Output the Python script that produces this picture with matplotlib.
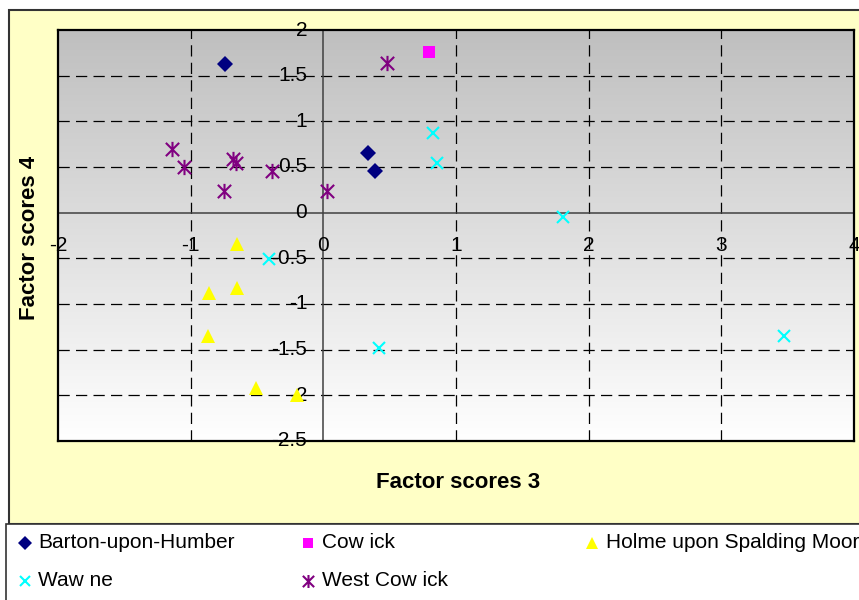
import numpy as np
import matplotlib
matplotlib.use("Agg")
import matplotlib.pyplot as plt
from matplotlib.path import Path
from matplotlib.colors import LinearSegmentedColormap
from matplotlib.patches import Rectangle
from matplotlib.lines import Line2D
from matplotlib.transforms import offset_copy

plt.rcParams['font.family'] = ['Liberation Sans', 'DejaVu Sans']

# Factor scores per site (factor 3 on x, factor 4 on y)
barton_x = [-0.74, 0.34, 0.39]
barton_y = [1.63, 0.65, 0.46]
cowick_x = [0.80]
cowick_y = [1.76]
holme_x = [-0.65, -0.86, -0.65, -0.87, -0.51, -0.20]
holme_y = [-0.34, -0.88, -0.82, -1.35, -1.92, -2.00]
wawne_x = [-0.41, 0.42, 0.83, 0.86, 1.81, 3.47]
wawne_y = [-0.51, -1.48, 0.87, 0.54, -0.05, -1.35]
westcowick_x = [-1.14, -1.05, -0.68, -0.66, -0.75, -0.39, 0.03, 0.48]
westcowick_y = [0.70, 0.50, 0.59, 0.54, 0.24, 0.46, 0.24, 1.64]

series_names = ["Barton-upon-Humber", "Cow ick", "Holme upon Spalding Moor",
                "Waw ne", "West Cow ick"]

x_ticks = [-2, -1, 0, 1, 2, 3, 4]
x_tick_labels = ["-2", "-1", "0", "1", "2", "3", "4"]
y_ticks = [-2.5, -2, -1.5, -1, -0.5, 0, 0.5, 1, 1.5, 2]
y_tick_labels = ["-2.5", "-2", "-1.5", "-1", "-0.5", "0", "0.5", "1", "1.5", "2"]

# asterisk marker: an X crossed by a vertical stroke
star_path = Path(
    [(-1, -1), (1, 1), (-1, 1), (1, -1), (0, -1.15), (0, 1.15)],
    [Path.MOVETO, Path.LINETO, Path.MOVETO, Path.LINETO, Path.MOVETO, Path.LINETO],
)

styles = [
    dict(marker='D', color='#000080', ms=8.5, mew=0),
    dict(marker='s', color='#FF00FF', ms=9, mew=0),
    dict(marker='^', color='#FFFF00', ms=10, mew=0),
    dict(marker='x', color='#00FFFF', ms=9, mew=1.5),
    dict(marker=star_path, color='#800080', ms=11, mew=1.5),
]

W, H = 859, 600
fig = plt.figure(figsize=(W / 100, H / 100), dpi=100)
fig.patch.set_facecolor('white')


def fx(px):
    return px / W


def fy(py):
    return 1 - py / H


# chart area and legend panel (drawn beneath the axes)
fig.patches.append(Rectangle((fx(9), fy(524)), (880 - 9) / W, (524 - 10) / H,
                             transform=fig.transFigure, facecolor='#FFFFC6',
                             edgecolor='#333333', lw=1.5, zorder=-10))
fig.patches.append(Rectangle((fx(6), fy(610)), (880 - 6) / W, (610 - 524) / H,
                             transform=fig.transFigure, facecolor='white',
                             edgecolor='#333333', lw=1.2, zorder=-10))

ax = fig.add_axes([fx(58), fy(441), (854 - 58) / W, (441 - 30) / H])
ax.set_zorder(1)
ax.set_xlim(-2, 4)
ax.set_ylim(-2.5, 2)

# vertical grey gradient behind the plot
grad_cmap = LinearSegmentedColormap.from_list('plotbg', ['#BFBFBF', '#FFFFFF'])
ax.imshow(np.linspace(0, 1, 256)[:, None], extent=[-2, 4, -2.5, 2],
          aspect='auto', cmap=grad_cmap, origin='upper', zorder=0)

for s in ax.spines.values():
    s.set_color('#000000')
    s.set_linewidth(1.6)
ax.set_xticks([])
ax.set_yticks([])

# dashed grid
for xv in x_ticks[1:-1]:
    if xv != 0:
        ax.axvline(xv, color='black', lw=0.9, dashes=(9, 5), zorder=1)
for yv in y_ticks[1:-1]:
    if yv != 0:
        ax.axhline(yv, color='black', lw=0.9, dashes=(9, 5), zorder=1)

# axes through the origin
ax.axhline(0, color='#404040', lw=1.1, zorder=2)
ax.axvline(0, color='#404040', lw=1.1, zorder=2)

# tick labels sitting next to the origin axes
tx = offset_copy(ax.transData, fig=fig, x=0, y=-23, units='dots')
for xv, lab in zip(x_ticks, x_tick_labels):
    ax.text(xv, 0, lab, transform=tx, ha='center', va='top', fontsize=15,
            color='black', zorder=3, clip_on=False)
ty = offset_copy(ax.transData, fig=fig, x=-16, y=0, units='dots')
for yv, lab in zip(y_ticks, y_tick_labels):
    ax.text(0, yv, lab, transform=ty, ha='right', va='center', fontsize=15,
            color='black', zorder=3, clip_on=False)

data = [(barton_x, barton_y), (cowick_x, cowick_y), (holme_x, holme_y),
        (wawne_x, wawne_y), (westcowick_x, westcowick_y)]
for (xs, ys), st in zip(data, styles):
    ax.plot(xs, ys, linestyle='none', marker=st['marker'], markersize=st['ms'],
            color=st['color'], markeredgecolor=st['color'],
            markeredgewidth=st['mew'], zorder=4, clip_on=False)

# axis titles
fig.text(fx(458), fy(482), "Factor scores 3", ha='center', va='center',
         fontsize=16, fontweight='bold')
fig.text(fx(30), fy(238), "Factor scores 4", ha='center', va='center',
         fontsize=16, fontweight='bold', rotation=90)

# legend entries laid out row by row
legend_pos = [(25, 38, 543), (308, 322, 543), (592, 606, 543),
              (25, 38, 581), (308, 322, 581)]
for name, st, (mx, tx_, row) in zip(series_names, styles, legend_pos):
    fig.add_artist(Line2D([fx(mx)], [fy(row)], transform=fig.transFigure,
                          linestyle='none', marker=st['marker'],
                          markersize=st['ms'] * 0.85, color=st['color'],
                          markeredgecolor=st['color'],
                          markeredgewidth=st['mew']))
    fig.text(fx(tx_), fy(row), name, ha='left', va='center', fontsize=15)

fig.savefig('out.png', dpi=100)
